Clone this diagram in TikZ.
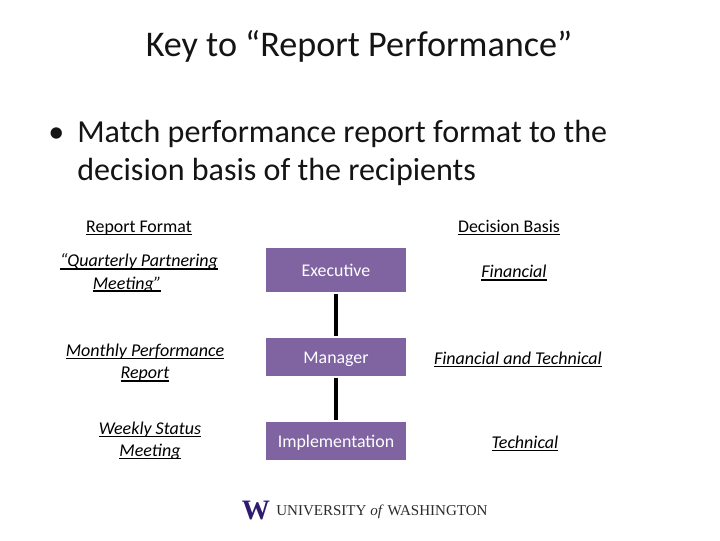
\documentclass[tikz,border=0pt]{standalone}
\usepackage{fontspec}
\setmainfont{Carlito}
\newfontfamily\logofont{Liberation Serif}
\definecolor{boxpurple}{HTML}{8064A2}
\definecolor{logopurple}{HTML}{2E1A6E}
\definecolor{logotext}{HTML}{2B2B2B}
\newcommand{\ulined}[1]{\setbox0\hbox{#1}\rlap{\rule[-1.9pt]{\wd0}{0.9pt}}\box0}
\tikzset{
	rolebox/.style={fill=boxpurple, text=white, minimum width=140*0.025cm, inner sep=0pt, outer sep=1.5pt, text height=9pt, text depth=0pt, font=\fontsize{12.7}{15}\selectfont},
	rolelink/.style={line width=3pt, color=black},
	doclabel/.style={align=center, inner sep=0pt, font=\fontsize{12.8}{15.8}\selectfont\itshape},
	headlabel/.style={inner sep=0pt, font=\fontsize{12.7}{15}\selectfont},
	slidetext/.style={anchor=base west, inner sep=0pt, text=black!92, font=\fontsize{22.8}{27}\selectfont},
}

\begin{document}
\begin{tikzpicture}[x=0.025cm, y=-0.025cm]
		%%%%% START %%%%%
		\useasboundingbox (0, 0) rectangle (720, 540);
		
		\node[inner sep=0pt, text=black!92, font=\fontsize{25.7}{30}\selectfont] (title) at (359, 46) {Key to “Report Performance”};
		
		\node[slidetext] (bullet) at (48, 142) {•};
		\node[slidetext] (lineone) at (77, 142) {Match performance report format to the};
		\node[slidetext] (linetwo) at (77, 180) {decision basis of the recipients};
		
		\node[headlabel] (formathead) at (139, 228) {\ulined{Report Format}};
		\node[headlabel] (basishead) at (509, 228) {\ulined{Decision Basis}};
		
		\node[doclabel] (quarterly) at (139, 273) {\ulined{“Quarterly Partnering}\\\ulined{Meeting”}\hspace*{17pt}};
		\node[doclabel] (monthly) at (145, 363) {\ulined{Monthly Performance}\\\ulined{Report}};
		\node[doclabel] (weekly) at (150, 441) {\ulined{Weekly Status}\\\ulined{Meeting}};
		
		\node[rolebox, minimum height=44*0.025cm] (executive) at (336, 270) {Executive};
		\node[rolebox, minimum height=38*0.025cm] (manager) at (336, 357) {Manager};
		\node[rolebox, minimum height=38*0.025cm] (implementation) at (336, 441) {Implementation};
		
		\draw[rolelink] (executive) -- (manager);
		\draw[rolelink] (manager) -- (implementation);
		
		\node[doclabel] (financial) at (514, 273) {\ulined{Financial}};
		\node[doclabel] (both) at (518, 359.5) {\ulined{Financial and Technical}};
		\node[doclabel] (technical) at (525, 443.5) {\ulined{Technical}};
		
		\node[inner sep=0pt, text=logopurple, font=\logofont\bfseries\fontsize{20}{20}\selectfont] (logow) at (256, 510) {W};
		\node[inner sep=0pt, anchor=west, text=logotext, font=\logofont\fontsize{10.7}{12}\selectfont] (logotext) at (276, 512) {UNIVERSITY \textit{of} WASHINGTON};
		
		%%%%% END %%%%%
	\end{tikzpicture}
\end{document}
